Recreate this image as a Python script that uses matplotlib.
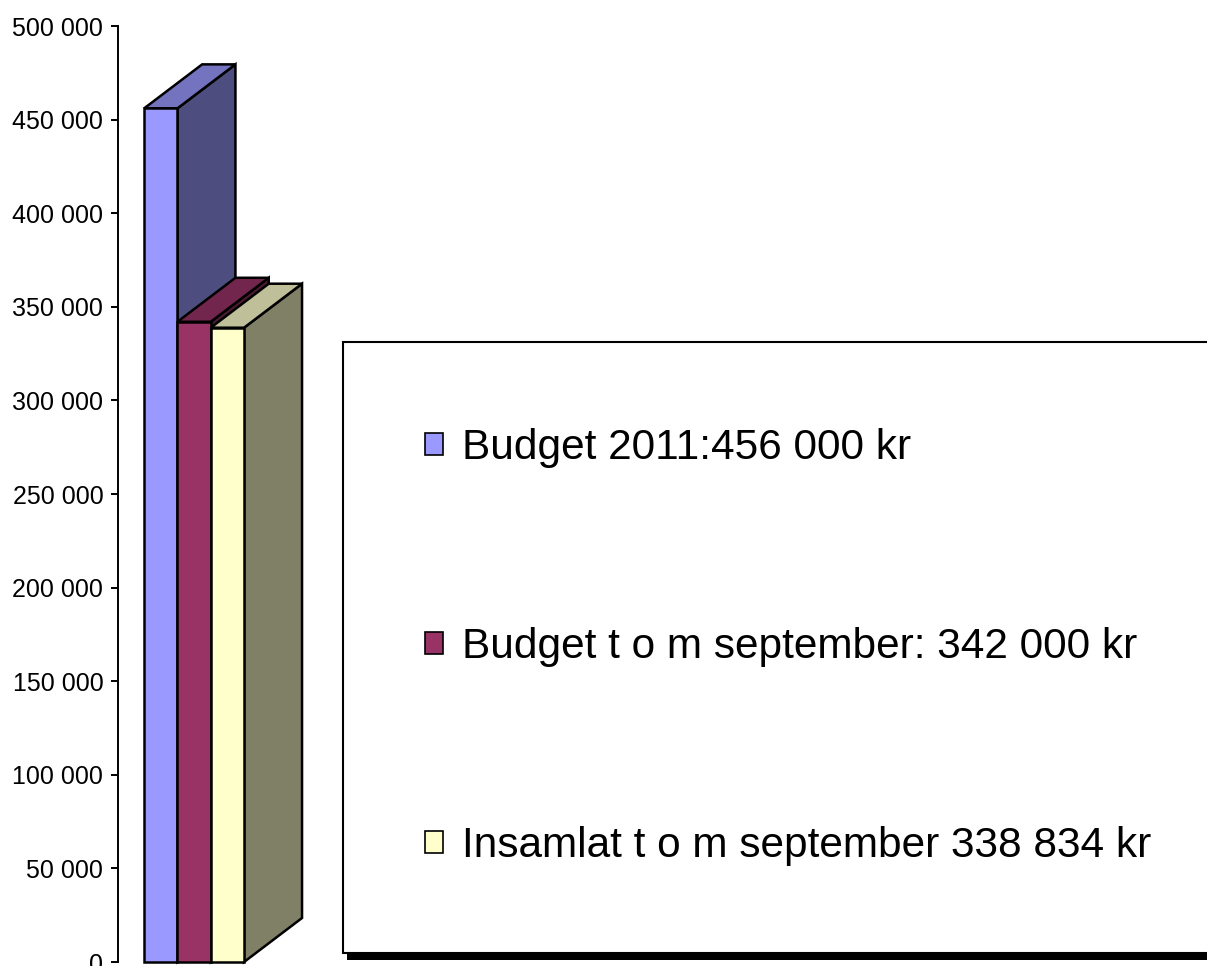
import matplotlib
matplotlib.use("Agg")
import matplotlib.pyplot as plt
from matplotlib.patches import Patch, Rectangle
from matplotlib.ticker import FuncFormatter

plt.rcParams['font.family'] = ['Liberation Sans', 'DejaVu Sans']

# data
labels = ['Budget 2011:456 000 kr',
          'Budget t o m september: 342 000 kr',
          'Insamlat t o m september 338 834 kr']
values = [456000, 342000, 338834]
front_colors = ['#9999FF', '#993366', '#FFFFCC']
top_colors = ['#7373BF', '#73264D', '#BFBF99']
side_colors = ['#4D4D80', '#4D1A33', '#808066']
yticks = list(range(0, 500001, 50000))

W, H = 1207, 966
fig = plt.figure(figsize=(W / 100, H / 100), dpi=100)

# axes placed in pixels: y=0 at 962 px, 500 000 at 26 px
ax_left, ax_right = 117.5, 340.5
ax = fig.add_axes([ax_left / W, (H - 962) / H, (ax_right - ax_left) / W, 936 / H])
bar_px = 33.3
ax.set_xlim(0, (ax_right - ax_left) / bar_px)
ax.set_ylim(0, 500000)

# 3D depth offset
dx = 58 / bar_px
dy = 44 / (936 / 500000)

x0 = 0.8
for i, v in enumerate(values):
    l, r = x0 + i, x0 + i + 1
    side = [(r, 0), (r + dx, dy), (r + dx, v + dy), (r, v)]
    top = [(l, v), (l + dx, v + dy), (r + dx, v + dy), (r, v)]
    front = [(l, 0), (r, 0), (r, v), (l, v)]
    for pts, c in [(side, side_colors[i]), (top, top_colors[i]), (front, front_colors[i])]:
        xs, ys = zip(*pts)
        ax.fill(xs, ys, facecolor=c, edgecolor='black', linewidth=1.8,
                joinstyle='miter', clip_on=False, zorder=2 + i)

ax.set_yticks(yticks)
ax.yaxis.set_major_formatter(FuncFormatter(lambda v, p: f"{int(v):,}".replace(',', ' ')))
ax.tick_params(axis='y', direction='out', length=4.7, width=1.4, pad=5.5, labelsize=18)
ax.set_xticks([])
for s in ['top', 'right', 'bottom']:
    ax.spines[s].set_visible(False)
ax.spines['left'].set_linewidth(1.4)
ax.patch.set_visible(False)

# legend box with shadow
fig.add_artist(Rectangle((347 / W, 6 / H), 2, (953 - 342) / H, transform=fig.transFigure,
                         facecolor='black', edgecolor='none', zorder=0))
fig.add_artist(Rectangle((343 / W, 13 / H), 2, (953 - 342) / H, transform=fig.transFigure,
                         facecolor='white', edgecolor='black', linewidth=1.5, zorder=1))

handles = [Patch(facecolor=c, edgecolor='black', linewidth=1.2) for c in front_colors]
leg = fig.legend(handles, labels, loc='center left', bbox_to_anchor=(425 / W, (H - 647) / H),
                 frameon=False, fontsize=30.5, borderpad=0, borderaxespad=0,
                 handlelength=0.43, handleheight=0.43, handletextpad=0.45,
                 labelspacing=3.76)
leg.set_zorder(5)

fig.savefig('out.png', dpi=100)
